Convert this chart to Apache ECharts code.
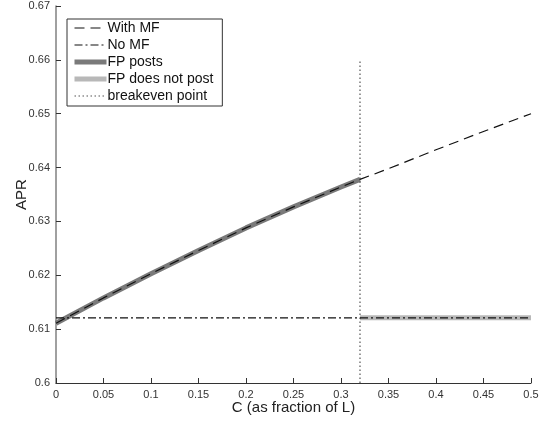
<!DOCTYPE html>
<html>
<head>
<meta charset="utf-8">
<script src="https://cdn.jsdelivr.net/npm/echarts@6/dist/echarts.min.js"></script>
<style>html,body{margin:0;padding:0;background:#fff}#c{width:544px;height:421px}</style>
</head>
<body>
<div id="c"></div>
<script>
var cValues = [0, 0.05, 0.1, 0.15, 0.2, 0.25, 0.3, 0.32, 0.35, 0.4, 0.45, 0.5];
var withMF  = [0.6111, 0.6158, 0.6203, 0.6246, 0.6288, 0.6327, 0.6364, 0.6378, 0.6398, 0.6433, 0.6467, 0.6500];
var noMF = 0.6121;
var breakeven = 0.32;
var breakevenTop = 0.66;
var seriesNames = ['With MF', 'No MF', 'FP posts', 'FP does not post', 'breakeven point'];
var xTicks = [0, 0.05, 0.1, 0.15, 0.2, 0.25, 0.3, 0.35, 0.4, 0.45, 0.5];
var yTicks = [0.6, 0.61, 0.62, 0.63, 0.64, 0.65, 0.66, 0.67];

var withData = cValues.map(function (c, i) { return [c, withMF[i]]; });
var noData = [[cValues[0], noMF], [cValues[cValues.length - 1], noMF]];
var postsData = withData.filter(function (p) { return p[0] <= breakeven; });
var notPostData = [[breakeven, noMF], [cValues[cValues.length - 1], noMF]];
var beData = [[breakeven, yTicks[0]], [breakeven, breakevenTop]];

var legendWidths = [1.2, 1.2, 5, 5, 1.2];
var font = 'Liberation Sans, Arial, Helvetica, sans-serif';
var chart = echarts.init(document.getElementById('c'));
chart.setOption({
  animation: false,
  backgroundColor: '#fff',
  grid: {left: 56, right: 13, top: 6, bottom: 38, containLabel: false, outerBoundsMode: 'none'},
  legend: {
    orient: 'vertical', left: 67, top: 19,
    data: seriesNames.map(function (n, i) { return {name: n, lineStyle: {width: legendWidths[i]}}; }),
    itemWidth: 32, itemHeight: 10, itemGap: 3,
    padding: [2, 9, 3, 5],
    borderColor: '#333', borderWidth: 1,
    backgroundColor: '#fff',
    itemStyle: {opacity: 0},
    textStyle: {fontFamily: font, fontSize: 14, color: '#111', padding: [0, 0, 0, -4]}
  },
  xAxis: {
    type: 'value', min: 0, max: 0.5, interval: 0.05,
    name: 'C (as fraction of L)', nameLocation: 'middle', nameGap: 17, nameMoveOverlap: false,
    nameTextStyle: {fontFamily: font, fontSize: 15, color: '#222'},
    axisLine: {lineStyle: {color: '#333', width: 1}},
    axisTick: {inside: true, length: 5, lineStyle: {color: '#333'}},
    axisLabel: {fontFamily: font, fontSize: 11, color: '#333', margin: 6,
      formatter: function (v) { return String(+v.toFixed(2)); }},
    splitLine: {show: false}
  },
  yAxis: {
    type: 'value', min: 0.6, max: 0.67, interval: 0.01,
    name: 'APR', nameLocation: 'middle', nameGap: 27, nameMoveOverlap: false, nameRotate: 90,
    nameTextStyle: {fontFamily: font, fontSize: 15, color: '#222'},
    axisLine: {lineStyle: {color: '#808080', width: 1.5}},
    axisTick: {inside: true, length: 5, lineStyle: {color: '#333'}},
    axisLabel: {fontFamily: font, fontSize: 11, color: '#333', margin: 6,
      formatter: function (v) { return String(+v.toFixed(2)); }},
    splitLine: {show: false}
  },
  series: [
    {name: seriesNames[0], type: 'line', data: withData, symbol: 'none', z: 5,
      lineStyle: {color: '#111', width: 1.2, type: [10, 6]}, itemStyle: {color: '#111'}},
    {name: seriesNames[1], type: 'line', data: noData, symbol: 'none', z: 5,
      lineStyle: {color: '#111', width: 1.2, type: [8, 3, 2, 3]}, itemStyle: {color: '#111'}},
    {name: seriesNames[2], type: 'line', data: postsData, symbol: 'none', z: 2,
      lineStyle: {color: '#7a7a7a', width: 5}, itemStyle: {color: '#7a7a7a'}},
    {name: seriesNames[3], type: 'line', data: notPostData, symbol: 'none', z: 2,
      lineStyle: {color: '#b8b8b8', width: 5}, itemStyle: {color: '#b8b8b8'}},
    {name: seriesNames[4], type: 'line', data: beData, symbol: 'none', z: 3,
      lineStyle: {color: '#555', width: 1.2, type: [1.5, 2.5]}, itemStyle: {color: '#555'}}
  ]
});
</script>
</body>
</html>
